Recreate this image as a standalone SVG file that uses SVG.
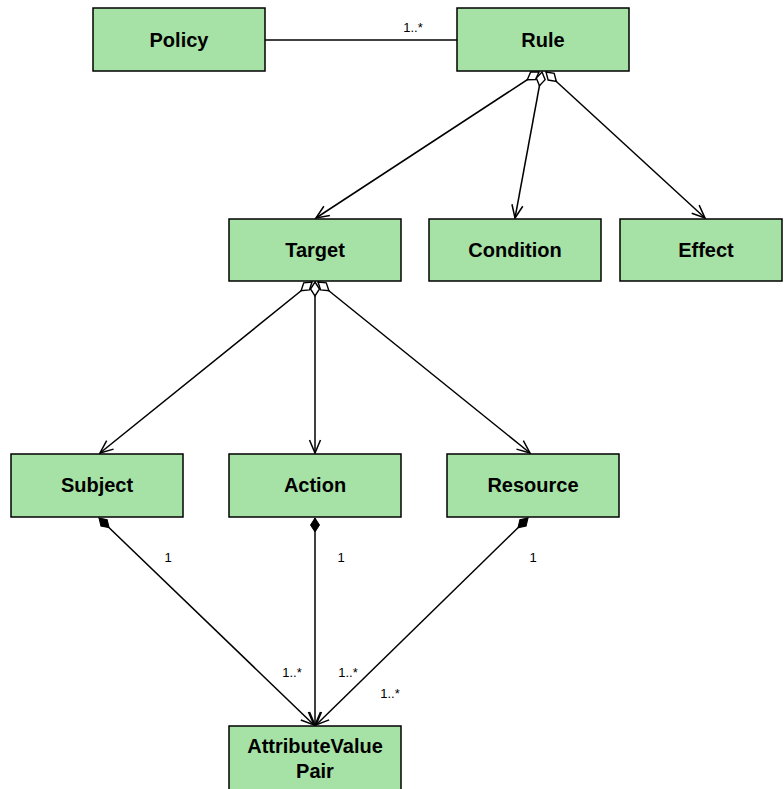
<svg xmlns="http://www.w3.org/2000/svg" width="784" height="789" viewBox="0 0 784 789">
  <style>
    .box { fill: #a6e2a6; stroke: #000; stroke-width: 1.5; }
    .name { font-family: "Liberation Sans", Arial, sans-serif; font-size: 20px; font-weight: bold; text-anchor: middle; fill: #000; }
    .mult { font-family: "Liberation Sans", Arial, sans-serif; font-size: 13px; text-anchor: middle; fill: #000; }
    .edge { fill: none; stroke: #000; stroke-width: 1.5; }
  </style>
  <defs>
    <!-- open arrowhead for navigable ends -->
    <marker id="open-arrow" markerUnits="userSpaceOnUse" markerWidth="16" markerHeight="14" viewBox="-14 -7 16 14" refX="0" refY="0" orient="auto">
      <path d="M-13,-5.5 L0,0 L-13,5.5" fill="none" stroke="#000" stroke-width="1.5"/>
    </marker>
    <!-- hollow diamond: aggregation -->
    <marker id="aggregation" markerUnits="userSpaceOnUse" markerWidth="18" markerHeight="14" viewBox="-1 -7 18 14" refX="0" refY="0" orient="auto">
      <path d="M0,0 L7,-4.5 L14,0 L7,4.5 Z" fill="#fff" stroke="#000" stroke-width="1.4"/>
    </marker>
    <!-- filled diamond: composition -->
    <marker id="composition" markerUnits="userSpaceOnUse" markerWidth="18" markerHeight="14" viewBox="-1 -7 18 14" refX="0" refY="0" orient="auto">
      <path d="M0,0 L7,-4.5 L14,0 L7,4.5 Z" fill="#000" stroke="#000" stroke-width="1"/>
    </marker>
  </defs>

  <g id="connectors">
    <path class="edge" d="M265,40 L457,40"/>
    <path class="edge" d="M539,72 L316,218" marker-start="url(#aggregation)" marker-end="url(#open-arrow)"/>
    <path class="edge" d="M542,72 L515,218" marker-start="url(#aggregation)" marker-end="url(#open-arrow)"/>
    <path class="edge" d="M546,72 L705,218" marker-start="url(#aggregation)" marker-end="url(#open-arrow)"/>
    <path class="edge" d="M312,282 L100,453" marker-start="url(#aggregation)" marker-end="url(#open-arrow)"/>
    <path class="edge" d="M315,282 L315,453" marker-start="url(#aggregation)" marker-end="url(#open-arrow)"/>
    <path class="edge" d="M318,282 L530,453" marker-start="url(#aggregation)" marker-end="url(#open-arrow)"/>
    <path class="edge" d="M99,518 L314,725" marker-start="url(#composition)" marker-end="url(#open-arrow)"/>
    <path class="edge" d="M315,518 L315,725" marker-start="url(#composition)" marker-end="url(#open-arrow)"/>
    <path class="edge" d="M528,518 L316,725" marker-start="url(#composition)" marker-end="url(#open-arrow)"/>
    <text class="mult" x="413" y="32">1..*</text>
    <text class="mult" x="168" y="562">1</text>
    <text class="mult" x="341" y="562">1</text>
    <text class="mult" x="533" y="562">1</text>
    <text class="mult" x="292" y="677">1..*</text>
    <text class="mult" x="348" y="677">1..*</text>
    <text class="mult" x="390" y="698">1..*</text>
  </g>

  <g id="policy">
    <rect class="box" x="93" y="8" width="172" height="63"/>
    <text class="name" x="179" y="46.5">Policy</text>
  </g>
  <g id="rule">
    <rect class="box" x="457" y="8" width="172" height="63"/>
    <text class="name" x="543" y="46.5">Rule</text>
  </g>
  <g id="target">
    <rect class="box" x="229" y="219" width="172" height="62"/>
    <text class="name" x="315" y="257">Target</text>
  </g>
  <g id="condition">
    <rect class="box" x="429" y="219" width="172" height="62"/>
    <text class="name" x="515" y="257">Condition</text>
  </g>
  <g id="effect">
    <rect class="box" x="620" y="219" width="162" height="62"/>
    <text class="name" x="706" y="257">Effect</text>
  </g>
  <g id="subject">
    <rect class="box" x="11" y="454" width="172" height="63"/>
    <text class="name" x="97" y="492">Subject</text>
  </g>
  <g id="action">
    <rect class="box" x="229" y="454" width="172" height="63"/>
    <text class="name" x="315" y="492">Action</text>
  </g>
  <g id="resource">
    <rect class="box" x="447" y="454" width="172" height="63"/>
    <text class="name" x="533" y="492">Resource</text>
  </g>
  <g id="attribute-value-pair">
    <rect class="box" x="229" y="726" width="172" height="70"/>
    <text class="name" x="315" y="753">AttributeValue</text>
    <text class="name" x="315" y="778">Pair</text>
  </g>
</svg>
